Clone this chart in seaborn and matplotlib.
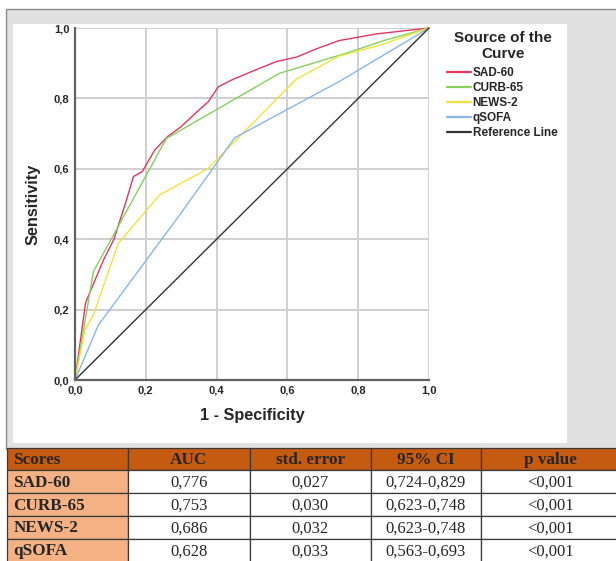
#Add libraries
import pandas as pd
import matplotlib
matplotlib.use("Agg")
import matplotlib.pyplot as plt
from matplotlib.patches import Rectangle
import seaborn as sns

#ROC points (1 - specificity, sensitivity)
sad60_fpr = [0, 0.03, 0.08, 0.11, 0.145, 0.165, 0.19, 0.225, 0.26, 0.30, 0.35, 0.376, 0.405, 0.446, 0.52, 0.57, 0.625, 0.68, 0.745, 0.85, 1]
sad60_tpr = [0, 0.22, 0.34, 0.40, 0.51, 0.578, 0.592, 0.653, 0.69, 0.72, 0.767, 0.79, 0.833, 0.854, 0.885, 0.905, 0.917, 0.94, 0.964, 0.983, 1]

curb65_fpr = [0, 0.052, 0.258, 0.577, 0.765, 0.878, 1]
curb65_tpr = [0, 0.308, 0.686, 0.871, 0.928, 0.966, 1]

news2_fpr = [0, 0.028, 0.052, 0.122, 0.239, 0.375, 0.624, 0.746, 0.864, 1]
news2_tpr = [0, 0.142, 0.185, 0.388, 0.526, 0.60, 0.854, 0.92, 0.952, 1]

qsofa_fpr = [0, 0.066, 0.30, 0.451, 0.75, 1]
qsofa_tpr = [0, 0.156, 0.475, 0.688, 0.85, 1]

ref_fpr = [0, 1]
ref_tpr = [0, 1]

curve_names = ["SAD-60", "CURB-65", "NEWS-2", "qSOFA", "Reference Line"]
curve_colors = ["#e2365e", "#84d05e", "#f3e23c", "#86b6ee", "#333333"]

#Table values
table_header = ["Scores", "AUC", "std. error", "95% CI", "p value"]
scores = ["SAD-60", "CURB-65", "NEWS-2", "qSOFA"]
auc = ["0,776", "0,753", "0,686", "0,628"]
std_error = ["0,027", "0,030", "0,032", "0,033"]
ci_95 = ["0,724-0,829", "0,623-0,748", "0,623-0,748", "0,563-0,693"]
p_value = ["<0,001", "<0,001", "<0,001", "<0,001"]

#Long data frame for seaborn
rows = []
for name, fpr, tpr in zip(curve_names,
                          [sad60_fpr, curb65_fpr, news2_fpr, qsofa_fpr, ref_fpr],
                          [sad60_tpr, curb65_tpr, news2_tpr, qsofa_tpr, ref_tpr]):
    for a, b in zip(fpr, tpr):
        rows.append({"fpr": a, "tpr": b, "curve": name})
df = pd.DataFrame(rows)

sns.set_style("white")
W, H = 616, 561
fig = plt.figure(figsize=(W / 100, H / 100), dpi=100)
fig.patch.set_facecolor("white")

#Background axes in pixel units (frame + table)
bg = fig.add_axes([0, 0, 1, 1], zorder=0)
bg.set_xlim(0, W)
bg.set_ylim(H, 0)
bg.axis("off")
bg.add_patch(Rectangle((6, 9), 630, 440, facecolor="#e1e1e1", edgecolor="#8a8a8a", lw=1))
bg.add_patch(Rectangle((13, 24), 554, 419, facecolor="white", edgecolor="none"))

col_edges = [6.7, 128, 249.5, 370.7, 481, 640]
row_edges = [447.5, 470, 493.3, 516, 538.5, 562]
serif = "Liberation Serif"
for r in range(5):
    for c in range(5):
        x0, x1 = col_edges[c], col_edges[c + 1]
        y0, y1 = row_edges[r], row_edges[r + 1]
        if r == 0:
            fc = "#c55a11"
        elif c == 0:
            fc = "#f4b183"
        else:
            fc = "white"
        bg.add_patch(Rectangle((x0, y0), x1 - x0, y1 - y0, facecolor=fc, edgecolor="#3a3a3a", lw=0.9))
        if r == 0:
            txt, bold = table_header[c], True
        else:
            txt = [scores, auc, std_error, ci_95, p_value][c][r - 1]
            bold = c == 0
        if c == 0:
            bg.text(x0 + 6.5, (y0 + y1) / 2 + 1, txt, ha="left", va="center", fontsize=12.3,
                    family=serif, fontweight="bold")
        else:
            bg.text((x0 + min(x1, 620)) / 2, (y0 + y1) / 2 + 1, txt, ha="center", va="center",
                    fontsize=12.3 if bold else 12, family=serif, fontweight="bold" if bold else "normal")

#ROC chart
ax = fig.add_axes([75 / W, 1 - 380 / H, 354 / W, 352 / H], zorder=2)
ax.set_facecolor("none")
sns.lineplot(data=df, x="fpr", y="tpr", hue="curve", palette=dict(zip(curve_names, curve_colors)),
             sort=False, estimator=None, lw=1, ax=ax, legend=True)
for line in ax.lines:
    line.set_clip_on(False)

ax.set_xlim(0, 1)
ax.set_ylim(0, 1)
ticks = [0, 0.2, 0.4, 0.6, 0.8, 1.0]
tick_labels = ["0,0", "0,2", "0,4", "0,6", "0,8", "1,0"]
ax.set_xticks(ticks)
ax.set_yticks(ticks)
ax.set_xticklabels(tick_labels, fontsize=8, fontweight="bold", family="Liberation Sans")
ax.set_yticklabels(tick_labels, fontsize=8, fontweight="bold", family="Liberation Sans")
ax.tick_params(length=0, pad=4)
ax.grid(True, color="#cfcfcf", lw=1.4)
ax.set_axisbelow(True)
for side in ["top", "right"]:
    ax.spines[side].set_visible(False)
for side in ["left", "bottom"]:
    ax.spines[side].set_color("#626262")
    ax.spines[side].set_linewidth(1.6)
    ax.spines[side].set_zorder(3)

ax.set_xlabel("1 - Specificity", fontsize=11.7, fontweight="bold", family="Liberation Sans")
ax.set_ylabel("Sensitivity", fontsize=11.7, fontweight="bold", family="Liberation Sans")
ax.xaxis.set_label_coords(0.5, -0.08)
ax.yaxis.set_label_coords(-0.098, 0.5)

#Legend outside on the right
handles, labels = ax.get_legend_handles_labels()
ax.get_legend().remove()
for h in handles:
    h.set_linewidth(1.6)
fig.text(503 / W, 1 - 31 / H, "Source of the\nCurve", ha="center", va="top", fontsize=11,
         fontweight="bold", family="Liberation Sans", linespacing=1.15)
leg = fig.legend(handles, labels, loc="upper left",
                 bbox_to_anchor=(447 / W, 1 - 67 / H), bbox_transform=fig.transFigure,
                 frameon=False, borderpad=0, borderaxespad=0, handlelength=2.0,
                 handletextpad=0.18, labelspacing=0.25,
                 prop={"family": "Liberation Sans", "weight": "bold", "size": 8.5})
leg.set_zorder(3)

fig.savefig("out.png", dpi=100)
